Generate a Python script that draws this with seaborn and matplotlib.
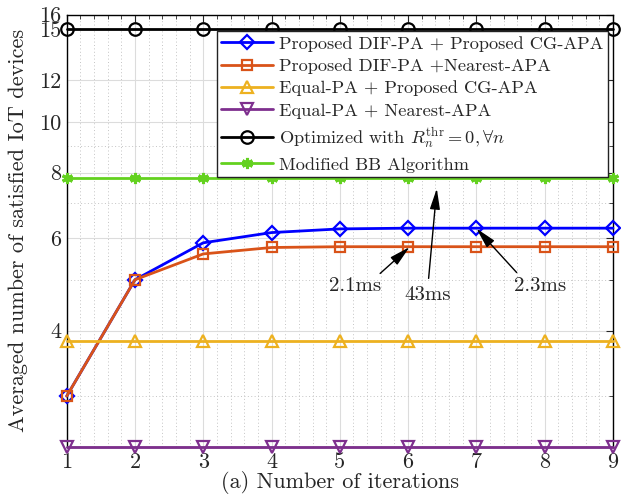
import numpy as np
import pandas as pd
import matplotlib
matplotlib.use("Agg")
import matplotlib.pyplot as plt
import seaborn as sns
from matplotlib.ticker import FixedLocator, NullFormatter, FixedFormatter

# ---- data ----
iterations = [1, 2, 3, 4, 5, 6, 7, 8, 9]
dif_cg = [3.0, 5.0, 5.88, 6.15, 6.25, 6.27, 6.27, 6.27, 6.27]
dif_nearest = [3.0, 5.0, 5.6, 5.76, 5.78, 5.78, 5.78, 5.78, 5.78]
equal_cg = [3.82] * 9
equal_nearest = [2.4] * 9
optimized = [15.0] * 9
modified_bb = [7.8] * 9

labels = [
    "Proposed DIF-PA + Proposed CG-APA",
    "Proposed DIF-PA +Nearest-APA",
    "Equal-PA + Proposed CG-APA",
    "Equal-PA + Nearest-APA",
    r"Optimized with $R_n^{\mathrm{thr}}=0,\forall n$",
    "Modified BB Algorithm",
]
y_ticks = [4, 6, 8, 10, 12, 15, 16]
y_minor = [3, 5, 7, 9]
x_ticks = [1, 2, 3, 4, 5, 6, 7, 8, 9]

sns.set_style("white")
plt.rcParams["font.family"] = ["cmr10"]
plt.rcParams["mathtext.fontset"] = "cm"
plt.rcParams["axes.formatter.use_mathtext"] = True

fig = plt.figure(figsize=(6.21, 4.95), dpi=100)
ax = fig.add_axes([0.1074, 0.097, 0.9871 - 0.1074, 0.9703 - 0.097])

series = [
    (dif_cg, "#0000ff", "D", 7),
    (dif_nearest, "#d95319", "s", 7),
    (equal_cg, "#edb120", "^", 9),
    (equal_nearest, "#7e2f8e", "v", 9),
    (optimized, "#000000", "o", 9),
]
for (vals, col, mk, ms), lab in zip(series, labels[:5]):
    sns.lineplot(x=iterations, y=vals, ax=ax, color=col, marker=mk, markersize=ms,
                 markerfacecolor="none", markeredgecolor=col, markeredgewidth=1.6,
                 linewidth=2, label=lab, clip_on=False, zorder=3)
sns.lineplot(x=iterations, y=modified_bb, ax=ax, color="#63d11f", marker=(6, 2, 0),
             markersize=8, markeredgewidth=2.2, markeredgecolor="#63d11f",
             linewidth=2, label=labels[5], clip_on=False, zorder=3)

ax.set_yscale("log")
ax.set_ylim(2.4, 16)
ax.set_xlim(1, 9)
ax.yaxis.set_major_locator(FixedLocator(y_ticks))
ax.yaxis.set_major_formatter(FixedFormatter([str(t) for t in y_ticks]))
ax.yaxis.set_minor_locator(FixedLocator(y_minor))
ax.yaxis.set_minor_formatter(NullFormatter())
ax.set_xticks(x_ticks)
ax.set_xticklabels([str(t) for t in x_ticks])
ax.xaxis.set_minor_locator(FixedLocator(np.arange(1, 9.01, 0.2)))

ax.grid(True, which="major", color="#dcdcdc", linewidth=0.8, linestyle="-")
ax.grid(True, which="minor", color="#c4c4c4", linewidth=0.7, linestyle=(0, (1, 2.5)))
ax.set_axisbelow(True)

ax.tick_params(which="both", direction="in", top=True, right=True, labelsize=16,
               color="#262626")
ax.tick_params(which="major", length=5, width=0.8, pad=4)
ax.tick_params(which="minor", length=3, width=0.6)
for sp in ax.spines.values():
    sp.set_color("#000000")
    sp.set_linewidth(1.0)
    sp.set_visible(True)

ax.set_xlabel("(a) Number of iterations", fontsize=16, labelpad=-1)
ax.set_ylabel("Averaged number of satisfied IoT devices", fontsize=16, labelpad=8)

leg = ax.legend(loc="upper right", bbox_to_anchor=(0.991, 0.962), borderaxespad=0,
                fontsize=13.2, handlelength=2.8, handletextpad=0.35, labelspacing=0.36,
                borderpad=0.25, frameon=True, fancybox=False, framealpha=1)
leg.get_frame().set_edgecolor("#222222")
leg.get_frame().set_linewidth(1.0)
leg.set_zorder(5)

arrow = dict(arrowstyle="-|>,head_length=0.9,head_width=0.22", color="black",
             lw=1.0, mutation_scale=14, shrinkA=0, shrinkB=0)
ax.annotate("", xy=(6.02, 5.77), xytext=(5.59, 5.14), arrowprops=arrow, zorder=6)
ax.text(5.22, 4.87, "2.1ms", fontsize=15, ha="center", va="center", zorder=6)
ax.annotate("", xy=(6.42, 7.46), xytext=(6.30, 5.03), arrowprops=arrow, zorder=6)
ax.text(6.29, 4.68, "43ms", fontsize=15, ha="center", va="center", zorder=6)
ax.annotate("", xy=(7.0, 6.26), xytext=(7.59, 5.16), arrowprops=arrow, zorder=6)
ax.text(7.94, 4.87, "2.3ms", fontsize=15, ha="center", va="center", zorder=6)

fig.savefig("out.png", dpi=100)
